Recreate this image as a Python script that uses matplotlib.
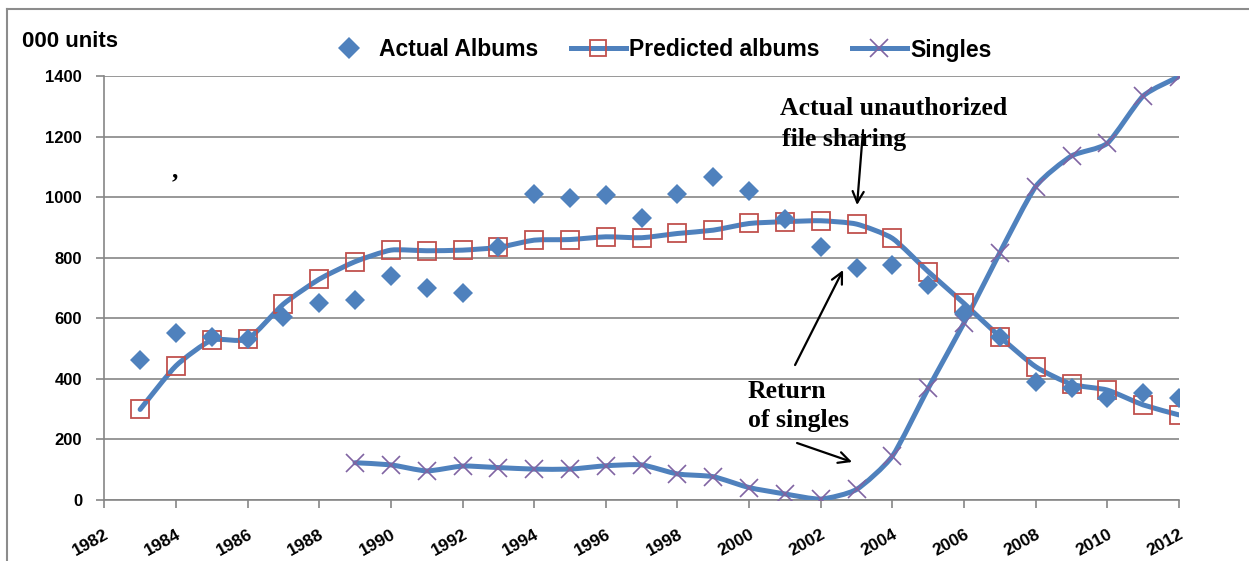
import matplotlib
matplotlib.use("Agg")
import matplotlib.pyplot as plt
from matplotlib.path import Path
from matplotlib.patches import PathPatch
from matplotlib.lines import Line2D

# ---------------- data ----------------
years_albums = list(range(1983, 2013))
actual_albums = [462, 552, 538, 531, 605, 649, 660, 741, 699, 682,
                 836, 1009, 998, 1007, 930, 1009, 1067, 1021, 928, 836,
                 767, 776, 710, 616, 539, 388, 369, 338, 352, 336]
predicted_albums = [299, 443, 528, 531, 647, 729, 787, 825, 823, 825,
                    834, 858, 860, 869, 866, 880, 891, 913, 919, 922,
                    911, 864, 754, 649, 539, 440, 382, 363, 314, 281]
years_singles = list(range(1989, 2013))
singles = [123, 116, 96, 112, 107, 102, 102, 113, 116, 86,
           77, 41, 20, 3, 35, 145, 369, 585, 817, 1035,
           1136, 1178, 1334, 1398]
x_ticks = list(range(1982, 2013, 2))
y_ticks = list(range(0, 1401, 200))
series_labels = ["Actual Albums", "Predicted albums", "Singles"]

BLUE = "#4F81BD"
RED = "#C0504D"
PURPLE = "#8064A2"
GRID = "#868686"
SANS = ["Liberation Sans", "DejaVu Sans"]
SERIF = ["Liberation Serif", "DejaVu Serif"]
TENSION = 0.1


def smooth_path(xs, ys):
    verts = [(xs[0], ys[0])]
    codes = [Path.MOVETO]
    n = len(xs)
    for i in range(n - 1):
        a = i - 1 if i > 0 else i
        d = i + 2 if i + 2 < n else i + 1
        c1 = (xs[i] + (xs[i + 1] - xs[a]) * TENSION, ys[i] + (ys[i + 1] - ys[a]) * TENSION)
        c2 = (xs[i + 1] - (xs[d] - xs[i]) * TENSION, ys[i + 1] - (ys[d] - ys[i]) * TENSION)
        verts += [c1, c2, (xs[i + 1], ys[i + 1])]
        codes += [Path.CURVE4] * 3
    return Path(verts, codes)


fig = plt.figure(figsize=(12.49, 5.61), dpi=100)
ax = fig.add_axes([104.3 / 1249, 61 / 561, (1179 - 104.3) / 1249, 424 / 561])
ax.set_xlim(1982, 2012)
ax.set_ylim(0, 1400)

# gridlines
for yv in y_ticks:
    ax.axhline(yv, color=GRID, lw=1.2, zorder=1)

LW = 3.6
for xs, ys in [(years_albums, predicted_albums), (years_singles, singles)]:
    patch = PathPatch(smooth_path(xs, ys), fill=False, edgecolor=BLUE, lw=LW,
                      capstyle="round", joinstyle="round", zorder=3)
    ax.add_patch(patch)

ax.plot(years_albums, predicted_albums, ls="none", marker="s", ms=13.5,
        mfc="none", mec=RED, mew=1.3, zorder=4)
ax.plot(years_singles, singles, ls="none", marker="x", ms=13.5,
        mec=PURPLE, mew=1.2, zorder=4)
ax.plot(years_albums, actual_albums, ls="none", marker="D", ms=10,
        mfc=BLUE, mec=BLUE, mew=0, zorder=5)

# axes styling
for s in ["top", "right"]:
    ax.spines[s].set_visible(False)
for s in ["left", "bottom"]:
    ax.spines[s].set_color(GRID)
    ax.spines[s].set_linewidth(1.2)
ax.set_xticks(x_ticks)
ax.set_yticks(y_ticks)
ax.tick_params(axis="both", direction="out", length=6, width=1.2, color=GRID)
ax.tick_params(axis="y", pad=10)
ax.tick_params(axis="x", pad=13)
ax.set_yticklabels([str(v) for v in y_ticks], fontsize=12, fontweight="bold",
                   family=SANS)
ax.set_xticklabels([str(v) for v in x_ticks], fontsize=12.5, fontweight="bold",
                   family=SANS, rotation=29, ha="right", rotation_mode="anchor")

# y-axis title
fig.text(22 / 1249, 1 - 47 / 561, "000 units", fontsize=16, fontweight="bold",
         family=SANS, ha="left", va="baseline")

# legend
handles = [
    Line2D([], [], ls="none", marker="D", ms=11, mfc=BLUE, mec=BLUE, mew=0),
    Line2D([], [], color=BLUE, lw=LW, marker="s", ms=11.5, mfc="none", mec=RED, mew=1.3),
    Line2D([], [], color=BLUE, lw=LW, marker="x", ms=12.5, mec=PURPLE, mew=1.2),
]
leg = fig.legend(handles, series_labels, loc="center left",
                 bbox_to_anchor=(321 / 1249, 1 - 50 / 561), ncol=3, frameon=False,
                 prop={"family": SANS, "weight": "bold", "size": 16.5},
                 handlelength=2.4, handletextpad=0.15, columnspacing=1.4,
                 borderpad=0, borderaxespad=0)


def px2data(px, py):
    return 1982 + (px - 104.3) / 35.82, (500 - py) / 0.3029


# annotations
for txt, (px, py) in [("Actual unauthorized", (780, 115)),
                      ("file sharing", (782, 146)),
                      ("Return", (748, 398)),
                      ("of singles", (748, 427))]:
    ax.text(*px2data(px, py), txt, family=SERIF, fontweight="bold", fontsize=18.5,
            ha="left", va="baseline", zorder=6)

ax.text(*px2data(175, 177), ",", family=SERIF, fontweight="bold", fontsize=18,
        ha="center", va="baseline", zorder=6)

for tail, head in [((863, 130), (857, 205)),
                   ((795, 365), (843, 270)),
                   ((797, 443), (852, 462))]:
    ax.annotate("", xy=px2data(*head), xytext=px2data(*tail),
                arrowprops=dict(arrowstyle="->,head_length=0.8,head_width=0.4",
                                color="black", lw=1.6, shrinkA=0, shrinkB=0),
                zorder=6)

# outer frame lines (screenshot border)
fig.add_artist(Line2D([7 / 1249, 1], [1 - 9 / 561, 1 - 9 / 561],
                      transform=fig.transFigure, color="#8C8C8C", lw=1.5))
fig.add_artist(Line2D([7 / 1249, 7 / 1249], [0, 1 - 9 / 561],
                      transform=fig.transFigure, color="#8C8C8C", lw=1.5))

fig.savefig("out.png", dpi=100)
